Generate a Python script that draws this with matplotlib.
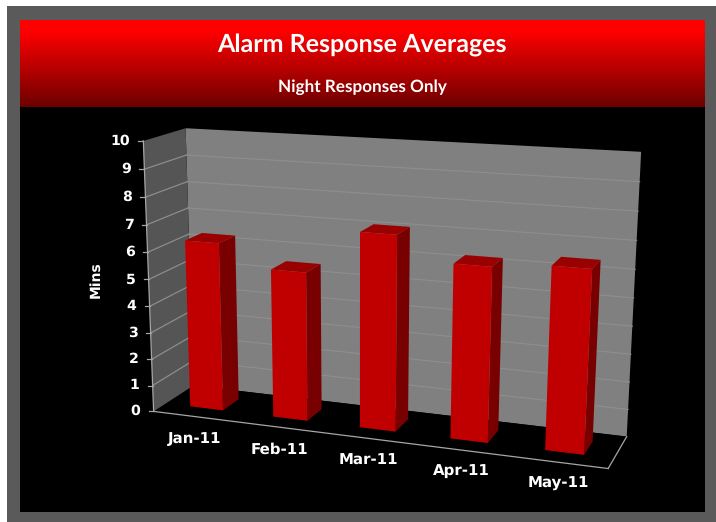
import numpy as np
import matplotlib
matplotlib.use("Agg")
import matplotlib.pyplot as plt
from matplotlib.patches import Polygon, Rectangle
from matplotlib.colors import LinearSegmentedColormap

plt.rcParams["text.hinting"] = "no_hinting"

months = ["Jan-11", "Feb-11", "Mar-11", "Apr-11", "May-11"]
mins = [6.3, 5.5, 7.1, 6.25, 6.45]
value_ticks = list(range(0, 11))
title = "Alarm Response Averages"
subtitle = "Night Responses Only"
y_label = "Mins"

W, H = 716, 522
fig = plt.figure(figsize=(W / 100, H / 100), dpi=100, facecolor="white")
ax = fig.add_axes([0, 0, 1, 1])
ax.set_xlim(0, W)
ax.set_ylim(H, 0)
ax.axis("off")

# Perspective camera fitted to the plot-box corners (x, value/10, depth)
corners = [((0, 0, 0), (155, 410)), ((0, 1, 0), (142, 141)), ((0, 0, 1), (192, 387)),
           ((0, 1, 1), (187, 128)), ((1, 1, 1), (641, 152)), ((1, 0, 1), (627, 435)),
           ((1, 0, 0), (608, 470))]
A, b = [], []
for (X, Y, Z), (u, v) in corners:
    A.append([X, Y, Z, 1, 0, 0, 0, 0, -u * X, -u * Y, -u * Z]); b.append(u)
    A.append([0, 0, 0, 0, X, Y, Z, 1, -v * X, -v * Y, -v * Z]); b.append(v)
p = np.linalg.lstsq(np.array(A, float), np.array(b, float), rcond=None)[0]
P = np.append(p, 1.0).reshape(3, 4)


def proj(x, val, z):
    q = P @ np.array([x, val / 10.0, z, 1.0])
    return q[0] / q[2], q[1] / q[2]


def poly(pts, color, z=2, edge="none", lw=0):
    ax.add_patch(Polygon([proj(*q) for q in pts], closed=True, facecolor=color,
                         edgecolor=edge, linewidth=lw, zorder=z))


# Frame and backgrounds
ax.add_patch(Rectangle((7, 6), W - 7, H - 6, facecolor="#5a5a5a", edgecolor="none", zorder=0))
ax.add_patch(Rectangle((20, 107), 685, 405, facecolor="black", edgecolor="none", zorder=0.5))
cmap = LinearSegmentedColormap.from_list("hdr", [(0, "#ff0000"), (0.12, "#ff0000"), (1, "#6e0000")])
ax.imshow(np.linspace(0, 1, 87).reshape(-1, 1), cmap=cmap, extent=(20, 705, 107, 20),
          aspect="auto", zorder=1)
ax.set_xlim(0, W)
ax.set_ylim(H, 0)

ax.text(362, 45, title, color="white", fontsize=18, fontweight="bold", family="Lato",
        ha="center", va="center", zorder=5)
ax.text(362, 87, subtitle, color="white", fontsize=12.3, fontweight="bold", family="Lato",
        ha="center", va="center", zorder=5)

# Walls and floor
poly([(0, 0, 1), (1, 0, 1), (1, 10, 1), (0, 10, 1)], "#808080")
poly([(0, 0, 0), (1, 0, 0), (1, 0, 1), (0, 0, 1)], "#000000")
poly([(0, 0, 0), (0, 0, 1), (0, 10, 1), (0, 10, 0)], "#555555")

for v in value_ticks:
    a, c, d = proj(0, v, 0), proj(0, v, 1), proj(1, v, 1)
    if v not in (0, 10):
        ax.plot([a[0], c[0]], [a[1], c[1]], color="#8c8c8c", lw=0.9, zorder=3)
        ax.plot([c[0], d[0]], [c[1], d[1]], color="#8e8e8e", lw=0.8, zorder=3)
    ax.plot([a[0] - 5, a[0]], [a[1], a[1]], color="#a6a6a6", lw=0.9, zorder=3)
    ax.text(a[0] - 13, a[1], str(v), color="white", fontsize=10.2, fontweight="bold",
            family="DejaVu Sans", ha="right", va="center", zorder=5)

# Box edges
for s, e in [((0, 0, 0), (0, 10, 0)), ((0, 0, 0), (1, 0, 0)), ((1, 0, 0), (1, 0, 1))]:
    a, c = proj(*s), proj(*e)
    ax.plot([a[0], c[0]], [a[1], c[1]], color="#a6a6a6", lw=0.9, zorder=3)

# Bars
n = len(months)
half = 0.04
z0, z1 = 0.3, 0.72
for i, (m, v) in enumerate(zip(months, mins)):
    c = (i + 0.5) / n
    x0, x1 = c - half, c + half
    zo = 4
    poly([(x1, 0, z0), (x1, 0, z1), (x1, v, z1), (x1, v, z0)], "#780000", zo)
    poly([(x0, v, z0), (x1, v, z0), (x1, v, z1), (x0, v, z1)], "#990000", zo)
    poly([(x0, 0, z0), (x1, 0, z0), (x1, v, z0), (x0, v, z0)], "#c00000", zo)
    lx, ly = proj(c, 0, 0)
    ax.text(lx, ly + 22, m, color="white", fontsize=10.8, fontweight="bold",
            family="DejaVu Sans", ha="center", va="center", zorder=5)

ax.text(96, 280, y_label, color="white", fontsize=10, fontweight="bold", rotation=90,
        family="DejaVu Sans", ha="center", va="center", zorder=5)

fig.savefig("out.png", dpi=100, facecolor="white")
